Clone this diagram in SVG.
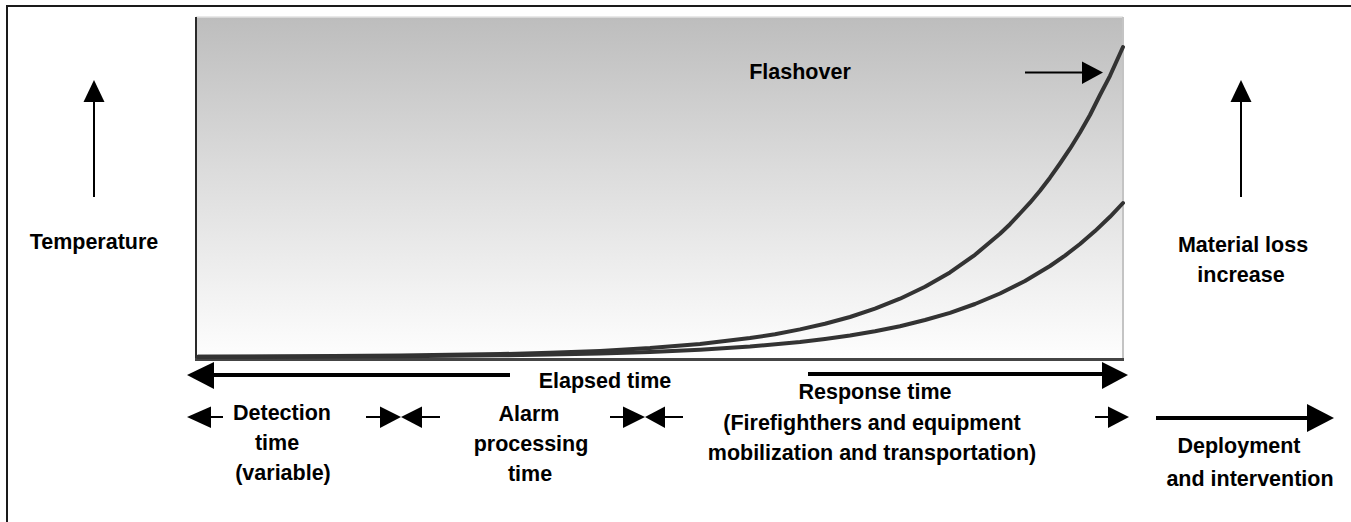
<svg xmlns="http://www.w3.org/2000/svg" width="1351" height="522" viewBox="0 0 1351 522">
<defs>
<linearGradient id="bg" x1="0" y1="0" x2="0" y2="1">
<stop offset="0" stop-color="#bdbdbd"/>
<stop offset="0.45" stop-color="#dcdcdc"/>
<stop offset="1" stop-color="#fefefe"/>
</linearGradient>
</defs>
<style>
text{font-family:"Liberation Sans",Arial,sans-serif;font-weight:bold;font-size:21.5px;fill:#000;text-anchor:middle}
.curve{fill:none;stroke:#333;stroke-width:4;stroke-linejoin:round;stroke-linecap:round}
.ln2{stroke:#000;stroke-width:2;fill:none}
.ln4{stroke:#000;stroke-width:4;fill:none}
.hd{fill:#000}
</style>
<rect width="1351" height="522" fill="#fff"/>
<rect x="7" y="6" width="1400" height="600" fill="none" stroke="#1a1a1a" stroke-width="2"/>

<g id="chart">
<rect x="196" y="17" width="927" height="342" fill="url(#bg)"/>
<line x1="196" y1="17" x2="1123" y2="17" stroke="#e2e2e2" stroke-width="1.5"/>
<line x1="1123" y1="17" x2="1123" y2="359" stroke="#c4c4c4" stroke-width="2"/>
<line x1="196" y1="17" x2="196" y2="360" stroke="#2a2a2a" stroke-width="2"/>
<line x1="195" y1="359.5" x2="1124" y2="359.5" stroke="#444" stroke-width="3"/>
<polyline class="curve" points="198,356.7 300,356.3 400,355.6 500,354.1 550,352.8 600,350.9 650,348.1 700,344 750,338.1 775,334.2 800,329.4 825,323.8 850,317 875,308.7 900,298.7 925,286.8 950,272.4 975,254.8 1000,233.8 1010,224.2 1020,213.5 1030,202.7 1040,190.7 1050,177.7 1060,163.5 1070,148.7 1080,132.5 1090,115 1100,95 1110,75.8 1123,47"/>
<polyline class="curve" points="198,356.8 400,356.2 500,355.3 550,354.5 600,353.4 650,351.9 700,349.7 750,346.5 800,342 825,339 850,335.5 875,331.2 900,326.2 925,320 950,312.8 975,304 1000,293.5 1025,281 1050,266 1065,255.6 1080,244 1095,231.1 1110,216.8 1123,203"/>
</g>

<g id="temperature">
<line class="ln2" x1="94" y1="100" x2="94" y2="197"/>
<polygon class="hd" points="94,80 83.5,102 104.5,102"/>
<text x="94" y="249">Temperature</text>
</g>

<g id="material-loss">
<line class="ln2" x1="1241" y1="100" x2="1241" y2="197"/>
<polygon class="hd" points="1241,80 1230.5,102 1251.5,102"/>
<text x="1243" y="252">Material loss</text>
<text x="1241" y="282">increase</text>
</g>

<g id="flashover">
<text x="800" y="79">Flashover</text>
<line class="ln2" x1="1025" y1="72.5" x2="1084" y2="72.5"/>
<polygon class="hd" points="1103,72.5 1082,61.5 1082,84"/>
</g>

<g id="elapsed">
<line class="ln4" x1="212" y1="375" x2="510" y2="375"/>
<polygon class="hd" points="187,375 214,362 214,389"/>
<line class="ln4" x1="808" y1="374" x2="1104" y2="374"/>
<polygon class="hd" points="1128,375 1102,362 1102,389"/>
<text x="605" y="388">Elapsed time</text>
</g>

<g id="detection">
<line class="ln2" x1="209" y1="417" x2="223" y2="417"/>
<polygon class="hd" points="187,417 211,406.5 211,428"/>
<text x="282" y="420">Detection</text>
<text x="277" y="450">time</text>
<text x="283" y="480">(variable)</text>
</g>

<g id="alarm">
<line class="ln2" x1="366" y1="417" x2="382" y2="417"/>
<polygon class="hd" points="401,417 380,406.5 380,428"/>
<polygon class="hd" points="401,417 422,406.5 422,428"/>
<line class="ln2" x1="420" y1="417" x2="440" y2="417"/>
<text x="529" y="421">Alarm</text>
<text x="531" y="451">processing</text>
<text x="530" y="481">time</text>
</g>

<g id="response">
<line class="ln2" x1="610" y1="417" x2="625" y2="417"/>
<polygon class="hd" points="645,417 623,406.5 623,428"/>
<polygon class="hd" points="645,417 665,406.5 665,428"/>
<line class="ln2" x1="663" y1="417" x2="683" y2="417"/>
<text x="875" y="399">Response time</text>
<text x="872" y="430">(Firefighthers and equipment</text>
<text x="872" y="460">mobilization and transportation)</text>
<line class="ln2" x1="1095" y1="417" x2="1110" y2="417"/>
<polygon class="hd" points="1129,417 1108,406.5 1108,428"/>
</g>

<g id="deployment">
<line class="ln4" x1="1156" y1="418" x2="1309" y2="418"/>
<polygon class="hd" points="1334,418 1307,404 1307,432"/>
<text x="1239" y="453">Deployment</text>
<text x="1250" y="486">and intervention</text>
</g>
</svg>
